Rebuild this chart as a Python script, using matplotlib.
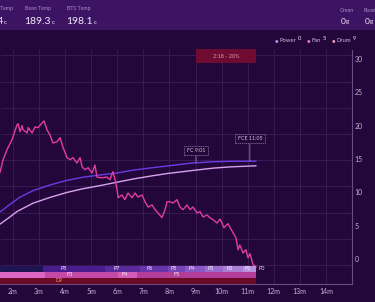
import numpy as np
import matplotlib
matplotlib.use("Agg")
import matplotlib.pyplot as plt
from matplotlib.patches import Rectangle
from matplotlib import font_manager

# ---------------- data ----------------
ror_min = [1.50, 1.62, 1.77, 1.96, 2.15, 2.19, 2.27, 2.35, 2.38, 2.54, 2.58, 2.73, 2.84, 2.96,
           3.11, 3.19, 3.30, 3.42, 3.53, 3.69, 3.80, 3.92, 4.07, 4.19, 4.30, 4.45, 4.57, 4.65,
           4.76, 4.88, 5.03, 5.14, 5.22, 5.34, 5.45, 5.60, 5.72, 5.83, 5.91, 5.99, 6.03, 6.18,
           6.29, 6.41, 6.56, 6.68, 6.79, 6.95, 7.06, 7.18, 7.33, 7.45, 7.56, 7.71, 7.83, 7.91,
           8.02, 8.14, 8.29, 8.40, 8.52, 8.67, 8.79, 8.90, 9.06, 9.17, 9.29, 9.44, 9.55, 9.67,
           9.82, 9.94, 10.09, 10.24, 10.40, 10.55, 10.63, 10.70, 10.82, 10.93, 11.01, 11.09,
           11.20, 11.32]
ror_val = [13.0, 14.9, 16.4, 17.9, 20.1, 20.3, 19.1, 20.0, 19.4, 18.9, 19.7, 18.9, 19.8, 19.7,
           20.4, 20.7, 19.4, 18.6, 17.4, 17.6, 18.2, 16.7, 15.2, 14.9, 15.2, 14.4, 15.2, 13.8,
           13.4, 13.7, 12.9, 14.1, 12.3, 12.2, 12.2, 12.3, 11.9, 13.1, 11.9, 10.4, 9.2, 9.6,
           8.9, 9.9, 9.2, 9.9, 9.3, 9.6, 8.6, 7.8, 8.1, 7.4, 6.9, 6.2, 7.4, 8.6,
           8.6, 8.4, 8.9, 7.8, 7.4, 8.1, 7.4, 7.8, 6.9, 7.1, 6.3, 6.6, 6.2, 5.9,
           5.4, 6.0, 4.7, 5.3, 4.2, 3.2, 1.4, 2.1, 0.9, 1.4, 0.2, 0.8,
           -0.8, -1.2]

bts_min = [1.50, 1.89, 2.27, 2.77, 3.42, 4.07, 4.68, 5.34, 5.99, 6.60, 7.25, 7.91, 8.79, 9.67, 10.32, 11.32]
bts_val = [101.0, 116.0, 129.5, 142.0, 152.7, 161.5, 167.5, 171.8, 175.6, 181.0, 185.1, 188.9, 194.2, 197.0, 197.9, 198.1]

bean_min = [1.50, 1.89, 2.15, 2.77, 3.42, 4.07, 4.68, 5.34, 5.99, 6.60, 7.25, 7.91, 8.79, 9.67, 10.32, 11.32]
bean_val = [78.0, 92.0, 102.0, 118.0, 129.0, 138.5, 145.5, 151.5, 158.0, 164.0, 169.5, 174.5, 179.8, 184.8, 187.2, 189.3]

power_start = [0.00, 3.15, 5.53, 6.87, 7.94, 8.60, 9.36, 10.05, 10.82]
power_level = [9, 8, 7, 6, 5, 4, 3, 2, 1]
fan_start = [0.00, 3.22, 6.03, 6.75]
fan_level = [2, 3, 4, 5]
drum_start = [0.00]
drum_level = [9]

fc_time = 9 + 1 / 60
fce_time = 11 + 5 / 60
end_time = 11 + 19 / 60

header_labels = ["Air Temp", "Bean Temp", "BTS Temp"]
header_values = ["223.4", "189.3", "198.1"]
weight_labels = ["Green", "Roast"]
weight_values = ["0", "0"]
legend_names = ["Power", "Fan", "Drum"]
legend_values = [0, 5, 9]
x_ticks = list(range(2, 15))
r_ticks = [0, 5, 10, 15, 20, 25, 30]
temp_grid = list(range(0, 401, 50))

# ---------------- style ----------------
W, H = 375, 302
BG = "#23073a"
HEADER = "#3d1463"
GRID = "#381b53"
SPINE = "#6a4b88"
TICK = "#c4b4d8"
plt.rcParams["font.family"] = ["Lato", "DejaVu Sans"]
installed = {f.name for f in font_manager.fontManager.ttflist}
BIG_FONT = ["Liberation Sans Narrow", "Lato", "DejaVu Sans"] if "Liberation Sans Narrow" in installed \
    else ["Lato", "DejaVu Sans"]
BIG_SIZE = 9 if "Liberation Sans Narrow" in installed else 7.5

power_colors = {9: "#1e1452", 8: "#4a1b8c", 7: "#5a2a9c", 6: "#6934ab", 5: "#7944b8",
                4: "#8a57c3", 3: "#9a6bcc", 2: "#aa80d5", 1: "#b992dd"}
fan_colors = {2: "#dc66c4", 3: "#c24aa6", 4: "#d45cb8", 5: "#b23e9a"}
drum_colors = {9: "#6a0a24"}

fig = plt.figure(figsize=(W / 100, H / 100), dpi=100, facecolor=BG)
renderer = fig.canvas.get_renderer()


def fx(px):
    return px / W


def fy(py):
    return 1 - py / H


def width_px(t):
    return t.get_window_extent(renderer=renderer).width


fig.patches.append(Rectangle((0, fy(30)), 1, 30 / H, transform=fig.transFigure,
                             facecolor=HEADER, edgecolor="none", zorder=0))

# axes: left=0px, right=352px, top=50px, bottom=284px
x_left, x_right = 1.5, 15.0
ax = fig.add_axes([0, fy(284), fx(352), (284 - 50) / H])
ax.set_facecolor(BG)
ax.set_xlim(x_left, x_right)
ax.set_ylim(-36.3, 410.3)
for s in ["left", "top"]:
    ax.spines[s].set_visible(False)
for s in ["right", "bottom"]:
    ax.spines[s].set_color(SPINE)
    ax.spines[s].set_linewidth(0.8)
ax.set_yticks(temp_grid)
ax.set_xticks(x_ticks)
ax.set_xticklabels([f"{t}m" for t in x_ticks])
ax.tick_params(axis="y", left=False, labelleft=False)
ax.tick_params(axis="x", length=0, pad=3, labelsize=5, labelcolor=TICK)
ax.grid(True, color=GRID, linewidth=0.7)
ax.set_axisbelow(True)

ax.plot(bean_min, bean_val, color="#d9a2ee", lw=1.0, zorder=3, solid_capstyle="round")
ax.plot(bts_min, bts_val, color="#6c3be6", lw=1.0, zorder=3, solid_capstyle="round")

axr = ax.twinx()
axr.set_ylim(-3.75, 31.35)
axr.set_xlim(x_left, x_right)
for s in ["left", "top", "bottom", "right"]:
    axr.spines[s].set_visible(False)
axr.set_yticks(r_ticks)
axr.tick_params(axis="y", length=0, pad=2, labelsize=5, labelcolor=TICK)

axr.plot(ror_min, ror_val, color="#e23ca4", lw=1.0, zorder=4)

# phase bars (labels sit a third of the way into each segment; hidden if scrolled out of view)
rows = [(power_start, power_level, power_colors, "P", -1.5, "#f4ecff"),
        (fan_start, fan_level, fan_colors, "F", -2.4, "#f8e6f4"),
        (drum_start, drum_level, drum_colors, "D", -3.3, "#f0a060")]
for starts, levels, colors, pre, yc, tc in rows:
    ends = starts[1:] + [end_time]
    for s, e, lv in zip(starts, ends, levels):
        axr.barh(yc, e - s, left=s, height=0.9, color=colors[lv], edgecolor="none", zorder=5)
        lx = s + (e - s) / 3
        if lx - 0.2 > x_left:
            axr.text(lx, yc, f"{pre}{lv}", ha="center", va="center", fontsize=4,
                     color=tc, zorder=6)
axr.text(end_time + 0.1, -1.5, "P0", ha="left", va="center", fontsize=4, color="#e8dcf4", zorder=6)

# development box
dev = end_time - fc_time
dev_txt = f"{int(dev)}:{round((dev - int(dev)) * 60):02d} - {round(dev / end_time * 100)}%"
axr.add_patch(Rectangle((fc_time, 29.4), dev, 2.1, facecolor="#6e0b30", edgecolor="none",
                        zorder=6, clip_on=False))
axr.text((fc_time + end_time) / 2, 30.45, dev_txt, ha="center", va="center", fontsize=4,
         color="#e49ab0", zorder=7, clip_on=False)

# FC / FCE annotations
for t, name, ybox in [(fc_time, "FC", 16.27), (fce_time, "FCE", 18.07)]:
    mm = int(t)
    ss = round((t - mm) * 60)
    yb = float(np.interp(t, bts_min, bts_val))
    axr.annotate(f"{name} {mm}:{ss:02d}", xy=(t, yb), xycoords=ax.transData,
                 xytext=(t, ybox), textcoords="data", ha="center", va="center",
                 fontsize=3.8, color="#d0c4dc", zorder=7,
                 bbox=dict(boxstyle="square,pad=0.45", fc=BG, ec="#8a7aa6", lw=0.5, ls=(0, (2, 1))),
                 arrowprops=dict(arrowstyle="-", color="#a898bc", lw=0.5, shrinkA=0, shrinkB=0))

# legend
dot_x = [276, 308, 333]
dot_colors = ["#b596f2", "#f07ad2", "#f29ac6"]
for dx, name, val, c in zip(dot_x, legend_names, legend_values, dot_colors):
    fig.text(fx(dx), fy(40.5), "\u25CF", color=c, fontsize=4.2, ha="center", va="center")
    t = fig.text(fx(dx + 3.5), fy(40.5), name, color="#c8b8de", fontsize=4.2, ha="left", va="center")
    w = width_px(t)
    fig.text(fx(dx + 5 + w), fy(38.5), str(val), color="#e8dcf4", fontsize=4.2, ha="left", va="center")

# header
for i, (lab, val) in enumerate(zip(header_labels, header_values)):
    if i == 0:
        fig.text(fx(13), fy(8.5), lab, color="#a890c4", fontsize=3.8, ha="right", va="center")
        fig.text(fx(3.5), fy(23.5), val, color="#f2eafa", fontsize=BIG_SIZE, family=BIG_FONT,
                 ha="right", va="baseline")
        fig.text(fx(4), fy(23.5), "c", color="#f2eafa", fontsize=4.5, ha="left", va="baseline")
    else:
        x0 = [24, 66][i - 1]
        fig.text(fx(x0 + 1), fy(8.5), lab, color="#a890c4", fontsize=3.8, ha="left", va="center")
        tv = fig.text(fx(x0), fy(23.5), val, color="#f2eafa", fontsize=BIG_SIZE, family=BIG_FONT,
                      ha="left", va="baseline")
        w = width_px(tv)
        fig.text(fx(x0 + w + 1), fy(23.5), "c", color="#f2eafa", fontsize=4.5, ha="left", va="baseline")

for x0, lab, val in zip([340, 364], weight_labels, weight_values):
    fig.text(fx(x0), fy(10.5), lab, color="#a890c4", fontsize=3.8, ha="left", va="center")
    tv = fig.text(fx(x0 + 0.5), fy(23.5), val, color="#f2eafa", fontsize=BIG_SIZE * 0.8,
                  family=BIG_FONT, ha="left", va="baseline")
    w = width_px(tv)
    fig.text(fx(x0 + 1 + w), fy(23.5), "g", color="#f2eafa", fontsize=4.5, ha="left", va="baseline")

fig.savefig("out.png", dpi=100, facecolor=BG)
